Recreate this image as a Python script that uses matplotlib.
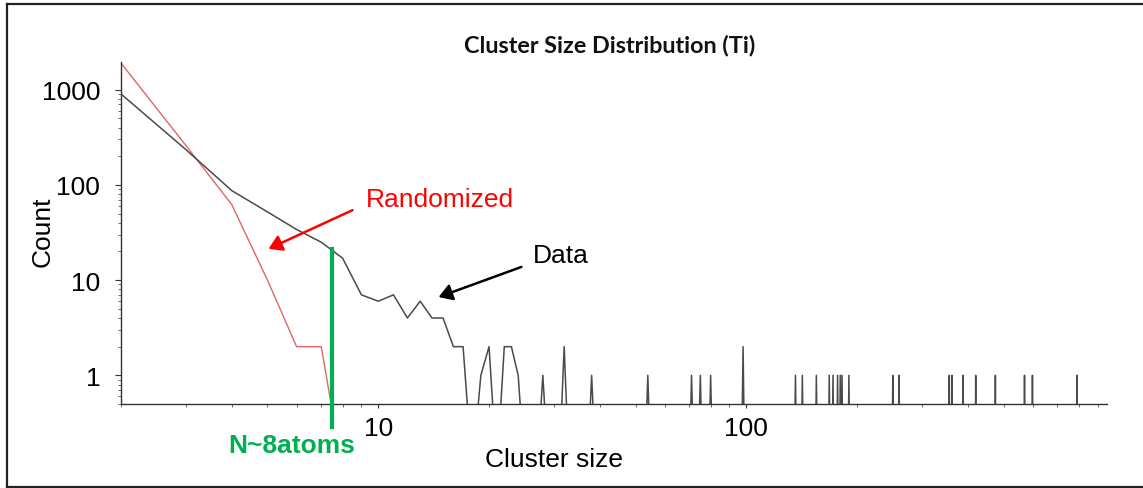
import numpy as np
import matplotlib
matplotlib.use("Agg")
import matplotlib.pyplot as plt
from matplotlib.lines import Line2D

# ---------------- data ----------------
# Measured cluster-size histogram (only non-zero bins listed)
data_sizes = [2, 3, 4, 5, 6, 7, 8, 9, 10, 11, 12, 13, 14, 15, 16, 17,
              19, 20, 22, 23, 24, 28, 32, 38, 54, 71, 75, 80, 98,
              136, 142, 155, 168, 172, 177, 180, 182, 190,
              250, 260, 356, 362, 388, 420, 475, 570, 599, 792]
data_counts = [900, 235, 87, 52, 34, 25, 17, 7, 6, 7, 4, 6, 4, 4, 2, 2,
               1, 2, 2, 2, 1, 1, 2, 1, 1, 1, 1, 1, 2,
               1, 1, 1, 1, 1, 1, 1, 1, 1,
               1, 1, 1, 1, 1, 1, 1, 1, 1, 1]
# Randomized reference distribution
rand_sizes = [2, 3, 4, 5, 6, 7]
rand_counts = [1900, 260, 62, 10, 2, 2]

max_size = 800
zero_level = 0.1   # empty bins are drawn at this level (below the visible range)

sizes = np.arange(2, max_size + 1)
data_full = np.full(sizes.shape, zero_level, dtype=float)
data_full[np.array(data_sizes) - 2] = data_counts
rand_full = np.full(sizes.shape, zero_level, dtype=float)
rand_full[np.array(rand_sizes) - 2] = rand_counts

W, H = 1143, 489
fig = plt.figure(figsize=(W / 100, H / 100), dpi=100)
plt.rcParams['font.family'] = ['Liberation Sans', 'DejaVu Sans']

def fx(px):
    return px / W

def fy(py):
    return 1 - py / H

ymin, ymax = 0.5, 1950
ax = fig.add_axes([fx(121), fy(405), (1107 - 121) / W, (405 - 63) / H])
ax.set_xscale('log')
ax.set_yscale('log')
ax.plot(sizes, rand_full, color='#e06666', lw=1.0, zorder=2)
ax.plot(sizes, data_full, color='#4a4a4a', lw=1.1, zorder=3)
ax.set_xlim(2, 955)
ax.set_ylim(ymin, ymax)

for s in ['top', 'right']:
    ax.spines[s].set_visible(False)
for s in ['left', 'bottom']:
    ax.spines[s].set_color('#333333')
    ax.spines[s].set_linewidth(1.0)

ax.set_yticks([1, 10, 100, 1000])
ax.set_yticklabels(['1', '10', '100', '1000'])
ax.set_xticks([10, 100])
ax.set_xticklabels(['10', '100'])
ax.tick_params(axis='y', which='major', length=4, width=0.8, labelsize=19, pad=11, color='#333333')
ax.tick_params(axis='y', which='minor', length=2, width=0.6, color='#555555')
ax.tick_params(axis='x', which='major', length=3, width=0.8, labelsize=19, pad=6, color='#333333')
ax.tick_params(axis='x', which='minor', length=2, width=0.6, color='#555555')
ax.xaxis.set_minor_formatter(matplotlib.ticker.NullFormatter())
ax.yaxis.set_minor_formatter(matplotlib.ticker.NullFormatter())

# axis labels
fig.text(fx(554), fy(460), 'Cluster size', ha='center', va='center', fontsize=19)
fig.text(fx(43), fy(232), 'Count', ha='center', va='center', fontsize=19, rotation=90)

# title
fig.text(fx(610), fy(45), 'Cluster Size Distribution (Ti)', ha='center', va='center',
         fontsize=16.8, fontweight='bold', family=['Lato', 'DejaVu Sans'], color='#111111')

# threshold marker
threshold = 7.5
ax.plot([threshold, threshold], [21, 0.285], color='#00b050', lw=3, clip_on=False, zorder=4)
fig.text(fx(292), fy(446), 'N~8atoms', ha='center', va='center', fontsize=19,
         fontweight='bold', color='#00b050')

# annotations
fig.text(fx(440), fy(200), 'Randomized', ha='center', va='center', fontsize=19, color='#ff0000')
fig.text(fx(561), fy(256), 'Data', ha='center', va='center', fontsize=19, color='black')
fig.add_artist(matplotlib.patches.FancyArrowPatch(
    (fx(355), fy(210)), (fx(266), fy(251)), transform=fig.transFigure,
    arrowstyle='-|>,head_length=8,head_width=5', color='#ff0000', lw=1.8, mutation_scale=1))
fig.add_artist(matplotlib.patches.FancyArrowPatch(
    (fx(524), fy(267)), (fx(436), fy(299)), transform=fig.transFigure,
    arrowstyle='-|>,head_length=8,head_width=5', color='black', lw=1.8, mutation_scale=1))

# outer frame (left, top, bottom)
for xs, ys in [((7, 7), (5, 488)), ((7, W), (5, 5)), ((7, W), (488, 488))]:
    fig.add_artist(Line2D([fx(x) for x in xs], [fy(y) for y in ys], color='#222222', lw=1.6,
                          transform=fig.transFigure))

fig.savefig('out.png', dpi=100)
